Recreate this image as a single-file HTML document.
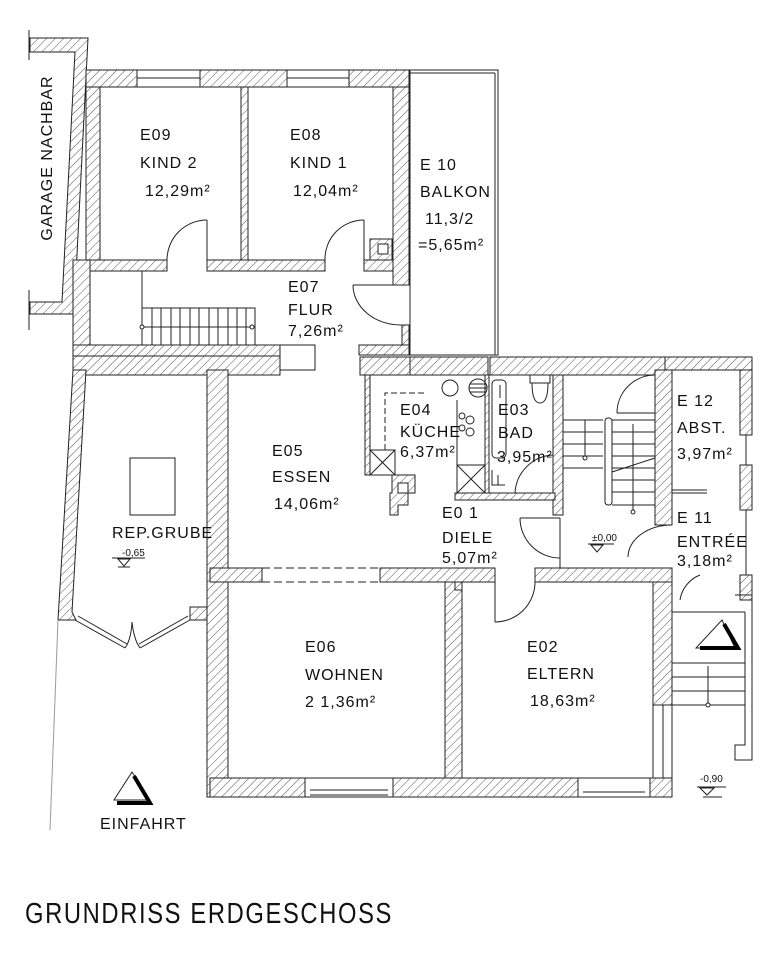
<!DOCTYPE html>
<html><head><meta charset="utf-8"><style>
html,body{margin:0;padding:0;background:#fff;}
svg{display:block;}
text{font-family:"Liberation Sans",sans-serif;fill:#111;}
.t{font-size:16px;letter-spacing:1px;}
.s{font-size:10px;}
</style></head><body>
<svg width="770" height="960" viewBox="0 0 770 960" xmlns="http://www.w3.org/2000/svg">
<defs>
<pattern id="h" patternUnits="userSpaceOnUse" width="6" height="6" patternTransform="rotate(45)">
<rect width="6" height="6" fill="#fff"/><line x1="0" y1="0" x2="0" y2="6" stroke="#555" stroke-width="1"/>
</pattern>
</defs>
<g stroke="#222" stroke-width="1" fill="url(#h)">
<!-- garage -->
<polygon points="30,38 88,38 74,314 30,314 30,302 62,302 75,52 30,52"/>
<!-- upper block -->
<rect x="86" y="70" width="323" height="17"/>
<rect x="86" y="87" width="14" height="173"/>
<rect x="73" y="260" width="17" height="85"/>
<rect x="241" y="87" width="7" height="173"/>
<rect x="393" y="87" width="16" height="198"/>
<rect x="402" y="325" width="7" height="20"/>
<rect x="90" y="260" width="77" height="11"/>
<rect x="207" y="260" width="118" height="11"/>
<rect x="364" y="260" width="29" height="11"/>
<rect x="370" y="239" width="22" height="21"/>
<!-- flur bottom / E05 top -->
<rect x="73" y="345" width="207" height="11"/>
<rect x="73" y="356" width="207" height="19"/>
<rect x="359" y="345" width="50" height="10"/>
<rect x="360" y="357" width="50" height="18"/>
<rect x="410" y="357" width="78" height="18"/>
<rect x="490" y="357" width="175" height="18"/>
<rect x="665" y="357" width="87" height="13"/>
<!-- grube -->
<polygon points="73,370 86,370 72,612 76,620 58,620"/>
<rect x="190" y="607" width="18" height="13"/>
<rect x="207" y="370" width="21" height="427"/>
<!-- kitchen/bad -->
<rect x="365" y="375" width="5" height="100"/>
<rect x="553" y="375" width="10" height="140"/>
<rect x="485" y="375" width="4" height="118"/>
<rect x="455" y="493" width="100" height="7"/>
<polygon points="392,475 415,475 415,493 408,493 408,505 398,505 398,515 390,515 390,493 392,493"/>
<!-- stairwell wall -->
<rect x="655" y="370" width="17" height="155"/>
<rect x="740" y="370" width="12" height="65"/>
<rect x="740" y="465" width="12" height="45"/>
<rect x="740" y="575" width="12" height="25"/>
<!-- middle wall -->
<rect x="210" y="568" width="52" height="14"/>
<rect x="380" y="568" width="115" height="14"/>
<rect x="535" y="568" width="137" height="14"/>
<rect x="445" y="582" width="17" height="215"/>
<rect x="653" y="582" width="19" height="123"/>
<rect x="210" y="778" width="95" height="19"/>
<rect x="393" y="778" width="185" height="19"/>
<rect x="650" y="778" width="22" height="19"/>
</g>
<g stroke="#222" stroke-width="1" fill="none">
<!-- garage side lines -->
<line x1="29" y1="30" x2="29" y2="60"/><line x1="29" y1="290" x2="29" y2="330"/>
<!-- windows top -->
<rect x="137" y="70" width="63" height="17" fill="#fff"/><line x1="137" y1="78" x2="200" y2="78"/>
<rect x="287" y="70" width="62" height="17" fill="#fff"/><line x1="287" y1="78" x2="349" y2="78"/>
<rect x="378" y="244" width="10" height="10" fill="#fff"/>
<!-- doors kind -->
<path d="M207,220 A40,40 0 0 0 167,260"/><line x1="207" y1="220" x2="207" y2="260"/>
<path d="M364,220 A39,39 0 0 0 325,260"/><line x1="364" y1="220" x2="364" y2="260"/>
<!-- flur door -->
<path d="M353,285 A48,40 0 0 0 402,325"/><line x1="353" y1="285" x2="402" y2="285"/>
<!-- balkon -->
<rect x="410" y="70" width="88" height="285"/><line x1="495" y1="73" x2="495" y2="355"/><line x1="410" y1="73" x2="495" y2="73"/>
<!-- stairs flur -->
<line x1="142" y1="271" x2="142" y2="345"/>
<rect x="142" y="308" width="113" height="37"/>
<path d="M152,308V345M161,308V345M171,308V345M180,308V345M190,308V345M199,308V345M209,308V345M218,308V345M228,308V345M237,308V345M246,308V345"/>
<line x1="142" y1="327" x2="252" y2="327"/>
<circle cx="142" cy="327" r="2" fill="#fff"/><circle cx="252" cy="327" r="2" fill="#fff"/>
<rect x="280" y="345" width="35" height="25" fill="#fff"/>
<!-- grube -->
<rect x="130" y="458" width="45" height="57"/>
<line x1="75" y1="620" x2="125" y2="648"/><line x1="78" y1="616" x2="127" y2="644"/>
<line x1="140" y1="648" x2="190" y2="620"/><line x1="139" y1="644" x2="188" y2="616"/>
<path d="M125,648 Q131,640 132,622 Q134,640 140,648"/>
<line x1="58" y1="620" x2="50" y2="830" stroke="#999"/>
<line x1="112" y1="558" x2="145" y2="558"/><path d="M118,559 L130,559 L124,566 Z"/><line x1="118" y1="567" x2="130" y2="567"/>
<!-- E05 bottom dashed -->
<line x1="262" y1="568" x2="380" y2="568" stroke-dasharray="8,4"/>
<line x1="262" y1="582" x2="380" y2="582" stroke-dasharray="8,4"/>
<!-- kitchen -->
<path d="M385,450 V393 H425" stroke-dasharray="6,3"/>
<rect x="370" y="450" width="25" height="25"/><path d="M370,450 L395,475 M395,450 L370,475"/>
<rect x="398" y="483" width="10" height="10" fill="#fff"/>
<line x1="395" y1="475" x2="365" y2="475"/>
<circle cx="450" cy="388" r="8"/><circle cx="478" cy="388" r="9"/>
<path d="M470,384H486M469,388H487M470,392H486"/>
<circle cx="470" cy="420" r="4"/><circle cx="470" cy="432" r="4"/><circle cx="462" cy="428" r="3"/><circle cx="462" cy="416" r="3"/>
<line x1="457" y1="400" x2="457" y2="493"/>
<rect x="457" y="465" width="28" height="28"/><path d="M457,465 L485,493 M485,465 L457,493"/>
<!-- bad -->
<rect x="492" y="380" width="14" height="78" rx="4"/>
<line x1="500" y1="385" x2="500" y2="398"/>
<rect x="530" y="375" width="20" height="8"/>
<path d="M532,383 Q532,403 540,403 Q548,403 548,383"/>
<path d="M492,470 L492,485 L505,485 M498,475 V485"/>
<path d="M553,455 A40,40 0 0 0 515,493"/>
<!-- stairwell -->
<path d="M563,420H603M563,432H603M563,444H603M563,456H603M563,468H603"/>
<line x1="585" y1="420" x2="585" y2="458"/>
<rect x="605" y="418" width="7" height="87" rx="3"/>
<path d="M612,420H655M612,432H655M612,444H655M612,456H655M612,468H655M612,480H655M612,492H655M612,505H655"/>
<line x1="612" y1="472" x2="655" y2="458"/>
<line x1="633" y1="424" x2="633" y2="512"/>
<circle cx="633" cy="512" r="2" fill="#fff"/><circle cx="585" cy="458" r="2" fill="#fff"/>
<path d="M617,413 A38,38 0 0 1 655,375"/><line x1="617" y1="413" x2="655" y2="413"/>
<path d="M520,518 A40,40 0 0 0 560,558"/><line x1="520" y1="518" x2="560" y2="518"/><line x1="560" y1="518" x2="560" y2="568"/>
<path d="M628,557 A44,32 0 0 1 672,525"/>
<line x1="588" y1="544" x2="614" y2="544"/><path d="M591,545 L603,545 L597,552 Z"/>
<!-- E12/E11 -->
<line x1="672" y1="490" x2="707" y2="490"/><line x1="672" y1="493" x2="707" y2="493"/>
<path d="M746,435V465M746,510V575"/>
<path d="M680,600 A32,32 0 0 1 700,575"/>
<!-- diele/E02 door -->
<line x1="495" y1="582" x2="495" y2="622"/>
<path d="M495,622 A40,40 0 0 0 535,582"/>
<rect x="455" y="582" width="7" height="8"/>
<!-- E02 window right -->
<line x1="653" y1="705" x2="653" y2="778"/><line x1="663" y1="705" x2="663" y2="778"/><line x1="672" y1="705" x2="672" y2="778"/>
<!-- bottom windows -->
<rect x="305" y="778" width="88" height="19" fill="#fff"/><line x1="310" y1="790" x2="388" y2="790"/><line x1="310" y1="795" x2="388" y2="795"/>
<rect x="578" y="778" width="72" height="19" fill="#fff"/><line x1="583" y1="792" x2="645" y2="792"/>
<!-- entry steps -->
<path d="M672,612H745M672,663H745M672,677H745M672,691H745M672,705H745"/>
<path d="M735,595 H752 V760 H735 V745 H745 V612"/>
<line x1="708" y1="666" x2="708" y2="705"/><circle cx="708" cy="705" r="2" fill="#fff"/>
<path d="M722,620 L696,648 L735,648 Z"/>
<path d="M724,624 L738,648 L700,648" stroke="#000" stroke-width="4"/>
<line x1="697" y1="787" x2="726" y2="787"/><path d="M700,788 L714,788 L707,795 Z"/><line x1="703" y1="797" x2="722" y2="797"/>
<!-- einfahrt -->
<path d="M132,772 L114,800 L150,800 Z"/>
<path d="M134,776 L150,803 L117,803" stroke="#000" stroke-width="4"/>
</g>
<!-- texts -->
<text class="t" x="52" y="158" text-anchor="middle" transform="rotate(-90 52 158)">GARAGE  NACHBAR</text>
<text class="t" x="140" y="140">E09</text><text class="t" x="140" y="168">KIND  2</text><text class="t" x="145" y="196">12,29m²</text>
<text class="t" x="290" y="140">E08</text><text class="t" x="290" y="168">KIND  1</text><text class="t" x="293" y="196">12,04m²</text>
<text class="t" x="420" y="170">E 10</text><text class="t" x="420" y="197">BALKON</text><text class="t" x="425" y="224">11,3/2</text><text class="t" x="418" y="250">=5,65m²</text>
<text class="t" x="288" y="292">E07</text><text class="t" x="288" y="315">FLUR</text><text class="t" x="288" y="336">7,26m²</text>
<text class="t" x="400" y="415">E04</text><text class="t" x="400" y="437">KÜCHE</text><text class="t" x="400" y="457">6,37m²</text>
<text class="t" x="498" y="415">E03</text><text class="t" x="498" y="438">BAD</text><text class="t" x="497" y="462">3,95m²</text>
<text class="t" x="272" y="456">E05</text><text class="t" x="272" y="482">ESSEN</text><text class="t" x="274" y="509">14,06m²</text>
<text class="t" x="112" y="538">REP.GRUBE</text><text class="s" x="122" y="556">-0,65</text>
<text class="t" x="442" y="518">E0 1</text><text class="t" x="442" y="543">DIELE</text><text class="t" x="442" y="563">5,07m²</text>
<text class="t" x="677" y="406">E 12</text><text class="t" x="677" y="433">ABST.</text><text class="t" x="677" y="459">3,97m²</text>
<text class="t" x="677" y="523">E 11</text><text class="t" x="677" y="547">ENTRÉE</text><text class="t" x="677" y="566">3,18m²</text>
<text class="s" x="592" y="541">±0,00</text>
<text class="t" x="305" y="652">E06</text><text class="t" x="305" y="680">WOHNEN</text><text class="t" x="305" y="707">2 1,36m²</text>
<text class="t" x="527" y="652">E02</text><text class="t" x="527" y="679">ELTERN</text><text class="t" x="530" y="706">18,63m²</text>
<text class="s" x="700" y="782">-0,90</text>
<text class="t" x="100" y="829">EINFAHRT</text>
<text x="25" y="923" font-size="29" textLength="368" lengthAdjust="spacingAndGlyphs" letter-spacing="2">GRUNDRISS  ERDGESCHOSS</text>
</svg>
</body></html>
